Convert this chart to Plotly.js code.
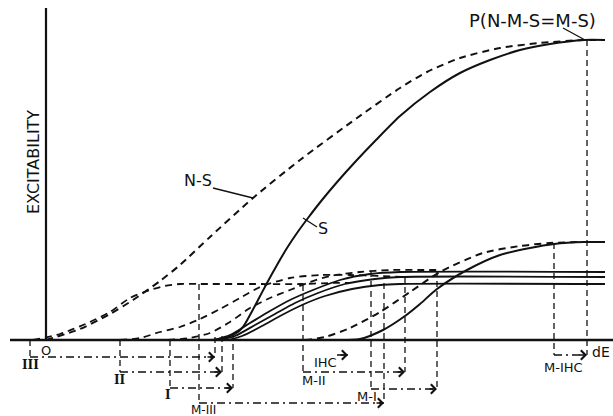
<!DOCTYPE html>
<html><head><meta charset="utf-8">
<script src="https://cdn.plot.ly/plotly-3.0.1.min.js"></script>
<style>html,body{margin:0;padding:0;background:#fff}#chart{width:613px;height:416px}</style>
</head><body><div id="chart"></div>
<script>
// Schematic units: x = stimulus strength (dE), y = excitability
const nsX = [0,34,64,87,114,134,164,207,254,311,354,381,414,454,494,538,559];
const nsY = [0,11,26,40,59,75,103,142,180,222,252,268,282,292,297,300,300];
const sX = [166,179,189,197,204,212,221,231,241,251,262,276,292,310,330,354,384,414,444,474,504,538,559];
const sY = [0,2,6,13,25,40,57,75,92,107,122,140,159,179,200,224,248,267,280,290,296,300,300];
const iiiX = [-13,14,44,64,84,104,119,134,154,204,254,284,304];
const iiiY = [0,6,18,28,42,50,54,56,56,56,56,57,57];
const iiX = [74,94,114,134,154,174,194,214,244,274,304,334,359];
const iiY = [0,2,8,13,21,31,42,53,62,65,65,64,63];
const iX = [122,144,164,184,204,224,244,264,284,314,344,374,394];
const iY = [0,2,7,18,32,42,50,58,64,68,70,70,70];
const aX = [167,184,204,224,244,267,294,324,354,559];
const aY = [0,5,17,29,40,50,60,66,68,68];
const bX = [174,189,209,229,249,272,299,329,354,559];
const bY = [0,4,15,26,37,47,56,61,63,63];
const cX = [182,196,216,236,256,279,306,334,354,559];
const cY = [0,4,14,25,35,44,51,55,56,56];
const mdX = [259,279,304,334,364,394,437,474,504,538,559];
const mdY = [0,3,12,28,48,68,87,94,97,98,98];
const msX = [294,314,337,359,374,391,421,454,484,508,538,559];
const msY = [0,1,10,24,36,51,70,85,92,96,98,98];
// drop lines
const dropX = [-16,74,124,153,169,176,187,257,325,338,359,391,508,541];
const dropTop = [0,0,0,56,3,4,6,55,69,57,63,69,97,300];
const dropBottom = [-17,-32,-48,-63,-17,-32,-48,-32,-49,-63,-32,-49,-15,-15];
// dash-dot arrows
const arrowStart = [-16,74,124,153,257,325,508];
const arrowEnd = [169,176,187,338,359,391,541];
const arrowRow = [-17,-32,-48,-63,-32,-49,-15];
// labels
const labelText = ["N-S","S","P(N-M-S=M-S)","O","dE","IHC","M-II","M-I","M-III","M-IHC"];
const labelX = [152,277,486,0,566,279,268,321,157,517];
const labelY = [160,112,320,-10,-12,-22,-40,-56,-69.5,-27];
const labelSize = [16,16,18,13,14,13,13,13,12,13];
const romanText = ["III","II","I"];
const romanX = [-16,74,122];
const romanY = [-25,-40,-55];

const K = '#111';
const traces = [];
function curve(x, y, dash, w) {
  traces.push({x, y, mode:'lines', line:{color:K, width:w||2, dash:dash||'solid', shape:'spline', smoothing:0.7}, hoverinfo:'skip'});
}
function seg(x, y, dash, w) {
  traces.push({x, y, mode:'lines', line:{color:K, width:w||1.5, dash:dash||'solid'}, hoverinfo:'skip'});
}
// axes
seg([-36,567],[0,0],'solid',2.6);
seg([0,0],[0,332],'solid',2.2);
curve(nsX, nsY, '7px,5px', 2);
curve(sX, sY, 'solid', 2);
curve(iiiX, iiiY, '7px,5px', 1.8);
curve(iiX, iiY, '7px,5px', 1.8);
curve(iX, iY, '7px,5px', 1.8);
curve(aX, aY, 'solid', 1.8);
curve(bX, bY, 'solid', 1.8);
curve(cX, cY, 'solid', 1.8);
curve(mdX, mdY, '7px,5px', 2);
curve(msX, msY, 'solid', 2);
// drop lines
{
  const x = [], y = [];
  dropX.forEach((v,i)=>{ x.push(v,v,null); y.push(dropTop[i],dropBottom[i],null); });
  seg(x, y, '6px,4px', 1.3);
}
// arrow shafts
{
  const x = [], y = [];
  arrowStart.forEach((v,i)=>{ x.push(v,arrowEnd[i],null); y.push(arrowRow[i],arrowRow[i],null); });
  seg(x, y, '8px,4px,2px,4px', 1.4);
}
// label leader ticks
seg([167,207],[152,142],'solid',1.3);
seg([257,271],[122,113],'solid',1.3);
seg([517,539],[312,300],'solid',1.3);
// IHC short arrow shaft
seg([291,302],[-15,-15],'solid',1.5);

const ann = [];
arrowEnd.forEach((v,i)=>{
  ann.push({x:v, y:arrowRow[i], xref:'x', yref:'y', text:'', showarrow:true, arrowhead:4, arrowsize:1.3, arrowwidth:1.4, arrowcolor:K, ax:-9, ay:0});
});
ann.push({x:302, y:-15, xref:'x', yref:'y', text:'', showarrow:true, arrowhead:4, arrowsize:1.3, arrowwidth:1.4, arrowcolor:K, ax:-9, ay:0});
labelText.forEach((t,i)=>{
  const a = {x:labelX[i], y:labelY[i], xref:'x', yref:'y', text:t, showarrow:false,
    font:{family:'DejaVu Sans', size:labelSize[i], color:K}};
  if (t==='dE') a.xanchor = 'right';
  ann.push(a);
});
romanText.forEach((t,i)=>{
  ann.push({x:romanX[i], y:romanY[i], xref:'x', yref:'y', text:'<b>'+t+'</b>', showarrow:false,
    font:{family:'DejaVu Serif', size:12, color:K}});
});
ann.push({x:-13, y:178, xref:'x', yref:'y', text:'EXCITABILITY', textangle:-90, showarrow:false,
  font:{family:'DejaVu Sans', size:16, color:K}});

const layout = {
  width:613, height:416, margin:{l:0,r:0,t:0,b:0},
  paper_bgcolor:'#fff', plot_bgcolor:'#fff', showlegend:false,
  xaxis:{range:[-46,567], visible:false, fixedrange:true},
  yaxis:{range:[-76,340], visible:false, fixedrange:true},
  annotations: ann
};
Plotly.newPlot('chart', traces, layout, {staticPlot:true, displayModeBar:false});
</script></body></html>
